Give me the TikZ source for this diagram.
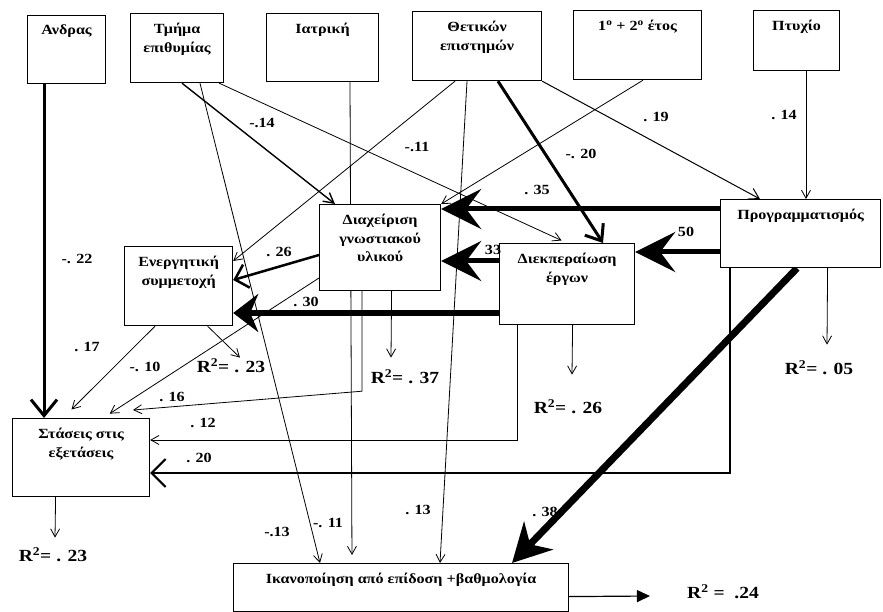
\documentclass[tikz,border=0pt]{standalone}
\usepackage{fontspec}
\setmainfont{Liberation Serif}[FakeStretch=1.15]
\usetikzlibrary{arrows.meta,backgrounds}

\begin{document}
\begin{tikzpicture}[
  x=1pt, y=-1pt,
  >=Stealth,
  var/.style={draw, fill=white, line width=1.2pt, anchor=north west, inner sep=0pt},
  vtxt/.style={anchor=north, yshift=-7pt, align=center, inner sep=3pt, font=\fontsize{14}{18.5}\selectfont\bfseries},
  coef/.style={font=\fontsize{14}{15}\selectfont\bfseries, inner sep=1pt},
  rsq/.style={font=\fontsize{17}{18}\selectfont\bfseries, inner sep=1pt},
  arr/.style={-{Straight Barb[length=8pt,width=9pt]}, line width=0.8pt},
  barb/.style={-{Straight Barb[length=14pt,width=24pt]}, line width=2.5pt},
  fat/.style={-{Stealth[length=40pt,width=40pt,inset=15pt]}, line width=5pt},
]
\useasboundingbox (0,0) rectangle (883,612);

\node[var, minimum width=78pt, minimum height=68pt, label={[vtxt, name=andrasT]north:Ανδρας}] (andras) at (27,15) {};
\node[var, minimum width=93pt, minimum height=69pt, label={[vtxt, name=tmimaT]north:{Τμήμα\\επιθυμίας}}] (tmima) at (130,13) {};
\node[var, minimum width=112pt, minimum height=68pt, label={[vtxt, name=iatrT]north:Ιατρική}] (iatr) at (266,13) {};
\node[var, minimum width=129pt, minimum height=69pt, label={[vtxt, name=thetT]north:{Θετικών\\επιστημών}}] (thet) at (412,11) {};
\node[var, minimum width=128pt, minimum height=69pt, label={[vtxt, name=etosT]north:{1\textsuperscript{ο} + 2\textsuperscript{ο} έτος}}] (etos) at (573,10) {};
\node[var, minimum width=86pt, minimum height=60pt, label={[vtxt, name=ptyxT]north:Πτυχίο}] (ptyx) at (753,10) {};

\node[var, minimum width=160pt, minimum height=68pt, label={[vtxt, name=progT]north:Προγραμματισμός}] (prog) at (720,199) {};
\node[var, minimum width=135pt, minimum height=81pt, label={[vtxt, name=diekT]north:{Διεκπεραίωση\\έργων}}] (diek) at (499,243) {};
\node[var, minimum width=121pt, minimum height=86pt, label={[vtxt, name=diaxT]north:{Διαχείριση\\γνωστιακού\\υλικού}}] (diax) at (319,204) {};
\node[var, minimum width=108pt, minimum height=79pt, label={[vtxt, name=energT]north:{Ενεργητική\\συμμετοχή}}] (energ) at (124,246) {};
\node[var, minimum width=137pt, minimum height=78pt, label={[vtxt, name=stasT]north:{Στάσεις στις\\εξετάσεις}}] (stas) at (12,418) {};
\node[var, minimum width=335pt, minimum height=48pt, label={[vtxt, name=ikanT]north:Ικανοποίηση από επίδοση +βαθμολογία}] (ikan) at (233,563) {};

\node[rsq] (r2e) at (231,366) {R\textsuperscript{2}= . 23};
\node[rsq] (r2x) at (405,377) {R\textsuperscript{2}= . 37};
\node[rsq] (r2k) at (568,407) {R\textsuperscript{2}= . 26};
\node[rsq] (r2p) at (819,368) {R\textsuperscript{2}= . 05};
\node[rsq] (r2s) at (53,555) {R\textsuperscript{2}= . 23};
\node[rsq] (r2i) at (723,592) {R\textsuperscript{2} = \ .24};

\node[coef] (c1) at (77,259) {-. 22};
\node[coef] (c2) at (262,123) {-.14};
\node[coef] (c3) at (417,147) {-.11};
\node[coef] (c4) at (581,154) {-. 20};
\node[coef] (c5) at (656,117) {. 19};
\node[coef] (c6) at (784,115) {. 14};
\node[coef] (c7) at (537,190) {. 35};
\node[coef] (c8) at (686,232) {50};
\node[coef] (c9) at (493,250) {33};
\node[coef] (c10) at (279,252) {. 26};
\node[coef] (c11) at (306,302) {. 30};
\node[coef] (c12) at (87,347) {. 17};
\node[coef] (c13) at (145,367) {-. 10};
\node[coef] (c14) at (172,397) {. 16};
\node[coef] (c15) at (203,423) {. 12};
\node[coef] (c16) at (199,458) {. 20};
\node[coef] (c17) at (277,532) {-.13};
\node[coef] (c18) at (328,523) {-. 11};
\node[coef] (c19) at (418,510) {. 13};
\node[coef] (c20) at (545,512) {. 38};

\begin{scope}[on background layer]
\draw[barb, line width=3pt, -{Straight Barb[length=16pt,width=26pt]}] ([xshift=17pt]andras.south west) -- ([xshift=32pt]stas.north west);
\draw[arr, line width=1.4pt, -{Straight Barb[length=10pt,width=11pt]}] ([xshift=52pt]tmima.south west) -- ([xshift=16pt]diax.north west);
\draw[arr] ([xshift=70pt]tmima.south west) -- ([xshift=87pt]ikan.north west);
\draw[arr, shorten >=6pt] ([xshift=-5pt]tmima.south east) -- ([xshift=68pt]diek.north west);
\draw[arr, shorten >=8pt] ([xshift=84pt]iatr.south west) -- ([xshift=119pt]ikan.north west);
\draw[arr] ([xshift=43pt]thet.south west) -- ([yshift=-15pt]energ.north east);
\draw[arr] ([xshift=55pt]thet.south west) -- ([xshift=207pt]ikan.north west);
\draw[barb, line width=3pt, -{Straight Barb[length=14pt,width=22pt]}] ([xshift=86pt]thet.south west) -- ([xshift=104pt]diek.north west);
\draw[arr, line width=1pt, -{Straight Barb[length=10pt,width=12pt]}] (thet.south east) -- ([xshift=40pt]prog.north west);
\draw[arr] ([xshift=70pt]etos.south west) -- (diax.north east);
\draw[arr] ([xshift=53pt]ptyx.south west) -- ([xshift=86pt]prog.north west);

\draw[fat] ([yshift=-10pt]prog.north west) -- ([yshift=-5pt]diax.north east);
\draw[fat] ([yshift=-53pt]prog.north west) -- ([yshift=-9pt]diek.north east);
\draw[fat] ([yshift=-18pt]diek.north west) -- ([yshift=-57pt]diax.north east);
\draw[fat, line width=6pt, -{Stealth[length=25pt,width=38pt,inset=8pt]}] ([yshift=-70pt]diek.north west) -- ([yshift=-67pt]energ.north east);
\draw[barb, -{Straight Barb[length=12pt,width=24pt]}] ([yshift=-51pt]diax.north west) -- ([yshift=-34pt]energ.north east);
\draw[arr, shorten >=8pt] ([yshift=-74pt]diax.north west) -- ([xshift=91pt]stas.north west);
\draw[arr] ([xshift=43pt]diax.south west) -- ++(0,100) -- ([xshift=121pt,yshift=8pt]stas.north west);
\draw[arr] ([xshift=18pt]diek.south west) |- ([yshift=-22pt]stas.north east);
\draw[barb, line width=2pt, -{Straight Barb[length=14pt,width=28pt]}] ([xshift=10pt]prog.south west) |- ([yshift=-55pt]stas.north east);
\draw[fat, line width=7pt, -{Stealth[length=38pt,width=40pt,inset=12pt]}] ([xshift=77pt]prog.south west) -- ([xshift=279pt]ikan.north west);
\draw[arr, shorten >=12pt] ([xshift=31pt]energ.south west) -- ([xshift=51pt]stas.north west);

\draw[arr] ([xshift=29pt]energ.south) -- ([xshift=9pt]r2e.north);
\draw[arr] ([xshift=11.5pt]diax.south) -- ([xshift=-14pt,yshift=11pt]r2x.north);
\draw[arr] ([xshift=5.5pt]diek.south) -- ([xshift=4pt,yshift=24pt]r2k.north);
\draw[arr] ([xshift=27pt]prog.south) -- ([xshift=8pt,yshift=15pt]r2p.north);
\draw[arr] ([xshift=-25.5pt]stas.south) -- ([xshift=2pt,yshift=9pt]r2s.north);
\draw[arr, line width=1.2pt, -{Triangle[length=13pt,width=12pt]}] ([yshift=-9pt]ikan.east) -- ([xshift=-36pt,yshift=-4pt]r2i.west);
\end{scope}

\end{tikzpicture}
\end{document}
